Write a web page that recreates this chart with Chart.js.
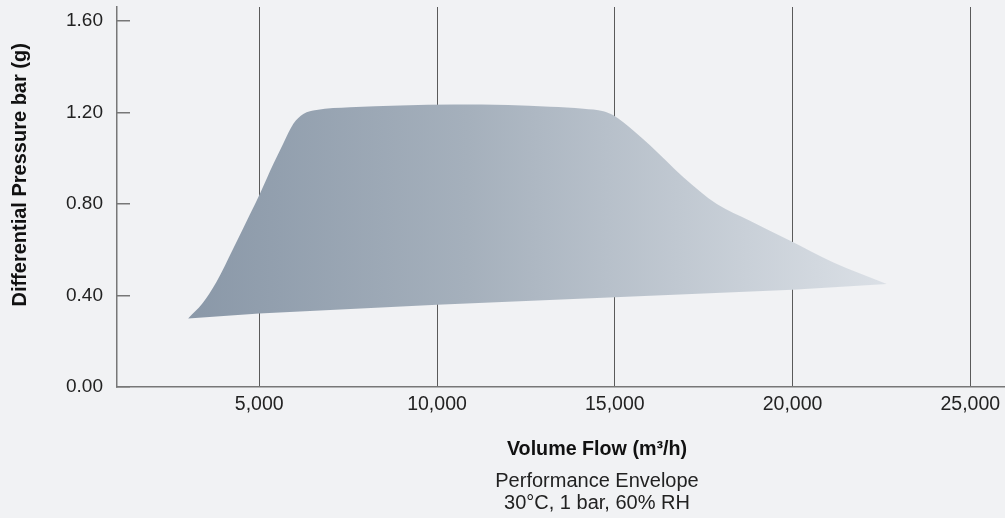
<!DOCTYPE html>
<html>
<head>
<meta charset="utf-8">
<script src="https://cdn.jsdelivr.net/npm/chart.js@4"></script>
<style>
  html, body { margin: 0; padding: 0; background: #f1f2f4; overflow: hidden; }
  #wrap { width: 1077px; height: 518px; }
</style>
</head>
<body>
<div id="wrap"><canvas id="envelope" width="1077" height="518"></canvas></div>
<script>
// upper edge of the envelope (m3/h, bar)
const upperFlow = [3000, 3400, 3800, 4270, 4740, 5020, 5400, 5680, 5960, 6240, 6610, 7550, 8960, 10500, 12000, 13180, 14120, 14680, 14960, 15520, 15990, 16930, 17870, 18800, 19920, 21150, 22650];
const upperDp   = [0.30, 0.365, 0.46, 0.605, 0.755, 0.845, 0.975, 1.065, 1.15, 1.193, 1.21, 1.222, 1.23, 1.234, 1.232, 1.224, 1.216, 1.205, 1.187, 1.121, 1.056, 0.917, 0.80, 0.727, 0.64, 0.544, 0.45];
// lower edge
const lowerFlow = [3000, 5000, 10000, 15000, 20000, 22650];
const lowerDp   = [0.30, 0.322, 0.36, 0.393, 0.425, 0.45];

const xTicks = [5000, 10000, 15000, 20000, 25000];
const yTicks = [0, 0.4, 0.8, 1.2, 1.6];

const FONT = "'Liberation Sans', Arial, Helvetica, sans-serif";
Chart.defaults.font.family = FONT;
Chart.defaults.font.size = 19;
Chart.defaults.color = '#222';

function envelopeFill(context) {
    const chart = context.chart;
    if (!chart.chartArea) return '#a3aebb';
    const x = chart.scales.x;
    const g = chart.ctx.createLinearGradient(x.getPixelForValue(upperFlow[0]), 0, x.getPixelForValue(upperFlow[upperFlow.length - 1]), 0);
    g.addColorStop(0, '#8a98a8');
    g.addColorStop(0.4, '#a5b0bc');
    g.addColorStop(1, '#dbe0e6');
    return g;
}

const ctx = document.getElementById('envelope').getContext('2d');
const envelope = new Chart(ctx, {
    type: 'line',
    data: {
        datasets: [{
            label: 'upper',
            data: upperFlow.map((v, i) => ({x: v, y: upperDp[i]})),
            borderWidth: 0,
            pointRadius: 0,
            cubicInterpolationMode: 'monotone',
            backgroundColor: envelopeFill,
            fill: '+1'
        }, {
            label: 'lower',
            data: lowerFlow.map((v, i) => ({x: v, y: lowerDp[i]})),
            borderWidth: 0,
            pointRadius: 0,
            tension: 0,
            fill: false
        }]
    },
    options: {
        responsive: false,
        animation: false,
        layout: { padding: { top: 7, left: 0, right: 0, bottom: 0 } },
        plugins: {
            legend: { display: false },
            tooltip: { enabled: false },
            title: {
                display: true,
                position: 'bottom',
                fullSize: false,
                text: ['Performance Envelope', '30°C, 1 bar, 60% RH'],
                font: { size: 20, weight: 'normal', lineHeight: 1.12 },
                color: '#222',
                padding: { top: 9, bottom: 3 }
            }
        },
        scales: {
            x: {
                type: 'linear',
                min: 1000,
                max: 28000,
                z: 1,
                afterBuildTicks: s => { s.ticks = xTicks.map(v => ({value: v})); },
                ticks: {
                    padding: 6,
                    color: '#222',
                    font: { size: 19.5 },
                    callback: v => v.toLocaleString('en-US')
                },
                grid: {
                    color: '#5a5a5a',
                    lineWidth: 1,
                    drawTicks: false
                },
                border: { color: '#777', width: 1.5 },
                title: {
                    display: true,
                    text: 'Volume Flow (m³/h)',
                    color: '#111',
                    font: { size: 19.7, weight: 'bold', lineHeight: 1.15 },
                    padding: { top: 16, bottom: 0 }
                }
            },
            y: {
                min: 0,
                max: 1.66,
                afterBuildTicks: s => { s.ticks = yTicks.map(v => ({value: v})); },
                afterFit: s => { s.width = 117; s.paddingTop = 0; s.paddingBottom = 0; },
                ticks: {
                    padding: 27,
                    color: '#222',
                    callback: v => v.toFixed(2)
                },
                grid: {
                    drawOnChartArea: false,
                    drawTicks: true,
                    tickLength: -13,
                    tickColor: '#777',
                    lineWidth: 1.5
                },
                border: { color: '#777', width: 1.5 },
                title: {
                    display: true,
                    text: '        Differential Pressure bar (g)',
                    color: '#111',
                    font: { size: 20, weight: 'bold' },
                    padding: { top: 8, bottom: 0 }
                }
            }
        }
    }
});
</script>
</body>
</html>
